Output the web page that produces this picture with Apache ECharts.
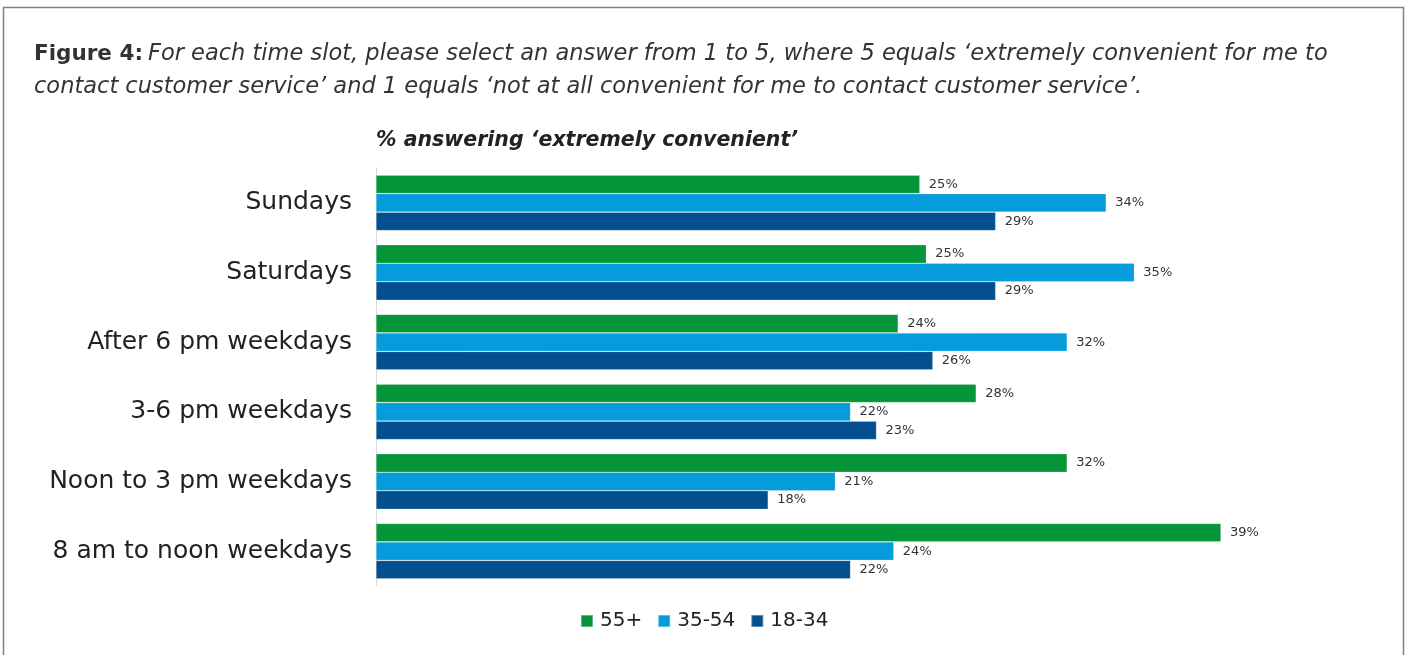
<!DOCTYPE html>
<html>
<head>
<meta charset="utf-8">
<script src="https://cdn.jsdelivr.net/npm/echarts@6/dist/echarts.min.js"></script>
<style>
html,body{margin:0;padding:0;background:#fff;}
#c{width:1413px;height:655px;}
</style>
</head>
<body>
<div id="c"></div>
<script>
const categories = ["Sundays", "Saturdays", "After 6 pm weekdays", "3-6 pm weekdays", "Noon to 3 pm weekdays", "8 am to noon weekdays"];
const seriesNames = ["55+", "35-54", "18-34"];
const values55 = [25.1, 25.4, 24.1, 27.7, 31.9, 39.0];
const values35 = [33.7, 35.0, 31.9, 21.9, 21.2, 23.9];
const values18 = [28.6, 28.6, 25.7, 23.1, 18.1, 21.9];
const colors = ["#06963a", "#069cdb", "#044f8f"];

const FONT = "DejaVu Sans";
const chart = echarts.init(document.getElementById('c'), null, {renderer: 'canvas'});

function mk(name, data, color) {
  return {
    name: name,
    type: 'bar',
    data: data,
    barWidth: 18.5,
    barGap: '0%',
    itemStyle: {color: color, borderColor: 'rgba(255,255,255,0.35)', borderWidth: 0.6},
    label: {
      show: true,
      position: 'right',
      distance: 9,
      color: '#333',
      fontFamily: FONT,
      fontSize: 13,
      formatter: p => Math.round(p.value) + '%'
    }
  };
}

chart.setOption({
  backgroundColor: '#fff',
  animation: false,
  title: [
    {
      left: 34, top: 38, padding: 0,
      text: '{b|Figure 4:} {i|For each time slot, please select an answer from 1 to 5, where 5 equals \u2018extremely convenient for me to}\n{i|contact customer service\u2019 and 1 equals \u2018not at all convenient for me to contact customer service\u2019.}',
      textStyle: {
        fontWeight: 'normal',
        rich: {
          b: {fontFamily: FONT, fontWeight: 'bold', fontStyle: 'normal', fontSize: 21.5, color: '#333', lineHeight: 33},
          i: {fontFamily: FONT, fontWeight: 'normal', fontStyle: 'italic', fontSize: 22.5, color: '#333', lineHeight: 33}
        }
      }
    },
    {
      left: 376, top: 131, padding: 0,
      text: '% answering \u2018extremely convenient\u2019',
      textStyle: {fontFamily: FONT, fontWeight: 'bold', fontStyle: 'italic', fontSize: 20.5, color: '#222'}
    }
  ],
  graphic: [{
    type: 'rect', silent: true,
    shape: {x: 3.5, y: 7.5, width: 1400, height: 700},
    style: {fill: 'none', stroke: '#7f7f7f', lineWidth: 1.5}
  }],
  legend: {
    data: seriesNames,
    left: 575, top: 606,
    icon: 'rect',
    itemWidth: 12, itemHeight: 12,
    itemGap: 15,
    textStyle: {fontFamily: FONT, fontSize: 20, color: '#222', padding: [0, 0, 0, 2]}
  },
  grid: {left: 376, top: 168, width: 975, height: 418, containLabel: false},
  xAxis: {
    type: 'value', min: 0, max: 45,
    show: false
  },
  yAxis: {
    type: 'category', data: categories, inverse: true,
    axisLine: {show: true, lineStyle: {color: '#d9d9d9', width: 1}},
    axisTick: {show: false},
    axisLabel: {fontFamily: FONT, fontSize: 25, color: '#222', margin: 24}
  },
  series: [mk(seriesNames[0], values55, colors[0]), mk(seriesNames[1], values35, colors[1]), mk(seriesNames[2], values18, colors[2])]
});
</script>
</body>
</html>
